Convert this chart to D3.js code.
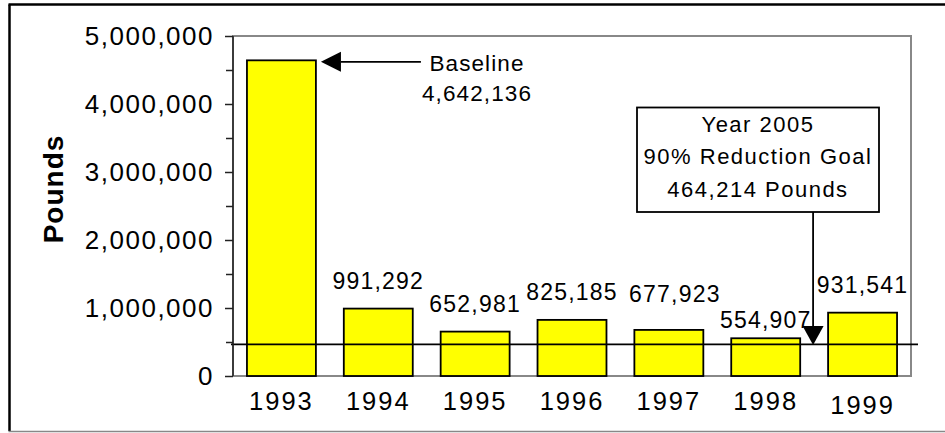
<!DOCTYPE html>
<html>
<head>
<meta charset="utf-8">
<script src="https://cdn.jsdelivr.net/npm/d3@7/dist/d3.min.js"></script>
<style>
  html, body { margin: 0; padding: 0; background: #fff; }
  svg { display: block; }
  text { font-family: "Liberation Sans", Arial, Helvetica, sans-serif; fill: #000; }
</style>
</head>
<body>
<svg id="chart" width="945" height="433"></svg>
<script>
// ---- data ----
const years = ["1993", "1994", "1995", "1996", "1997", "1998", "1999"];
const pounds = [4642136, 991292, 652981, 825185, 677923, 554907, 931541];
const yTicks = [0, 1000000, 2000000, 3000000, 4000000, 5000000];
const yMinorTicks = [500000, 1500000, 2500000, 3500000, 4500000];
const goalValue = 464214;
const baselineText = ["Baseline", "4,642,136"];
const goalText = ["Year 2005", "90% Reduction Goal", "464,214 Pounds"];
const yTitle = "Pounds";

// ---- layout ----
const svg = d3.select("#chart");
const L = 233, R = 911, T = 36, B = 376;

const x = d3.scaleBand().domain(years).range([L, R]).paddingInner(0.288).paddingOuter(0.144);
const y = d3.scaleLinear().domain([0, 5000000]).range([B, T]);
const fmt = d3.format(",");

// outer frame
svg.append("line").attr("x1", 9.5).attr("x2", 9.5).attr("y1", 4.5).attr("y2", 431)
  .attr("stroke", "#000").attr("stroke-width", 2.5);
svg.append("line").attr("x1", 8.5).attr("x2", 945).attr("y1", 4.5).attr("y2", 4.5)
  .attr("stroke", "#000").attr("stroke-width", 2.5);
svg.append("line").attr("x1", 8.5).attr("x2", 945).attr("y1", 431.5).attr("y2", 431.5)
  .attr("stroke", "#888").attr("stroke-width", 1.5);

// plot area
svg.append("rect").attr("x", L).attr("y", T).attr("width", R - L).attr("height", B - T)
  .attr("fill", "#fff").attr("stroke", "#888").attr("stroke-width", 2);

// bars
svg.append("g").selectAll("rect").data(years).join("rect")
  .attr("x", d => x(d))
  .attr("y", (d, i) => y(pounds[i]))
  .attr("width", x.bandwidth())
  .attr("height", (d, i) => y(0) - y(pounds[i]))
  .attr("fill", "#ffff00")
  .attr("stroke", "#000")
  .attr("stroke-width", 1.8);

// goal line
svg.append("line").attr("x1", L - 2).attr("x2", R + 7)
  .attr("y1", y(goalValue)).attr("y2", y(goalValue))
  .attr("stroke", "#000").attr("stroke-width", 1.8);

// y axis
const yAxis = svg.append("g").attr("transform", `translate(${L},0)`)
  .call(d3.axisLeft(y).tickValues(yTicks).tickSize(8).tickPadding(11).tickFormat(fmt));
yAxis.select(".domain").remove();
yAxis.selectAll(".tick line").attr("stroke", "#222").attr("stroke-width", 1.5);
yAxis.selectAll(".tick text").style("font-size", "26px").style("letter-spacing", "1.5px")
  .attr("fill", "#000");

const yMinor = svg.append("g").attr("transform", `translate(${L},0)`)
  .call(d3.axisLeft(y).tickValues(yMinorTicks).tickSize(7).tickFormat(""));
yMinor.select(".domain").remove();
yMinor.selectAll(".tick line").attr("stroke", "#222").attr("stroke-width", 1.5);

svg.append("line").attr("x1", L).attr("x2", L).attr("y1", T).attr("y2", B)
  .attr("stroke", "#222").attr("stroke-width", 1.5);

// x axis (category labels)
const xAxis = svg.append("g").attr("transform", `translate(0,${B})`)
  .call(d3.axisBottom(x).tickSize(0).tickPadding(16));
xAxis.select(".domain").remove();
xAxis.selectAll(".tick text").style("font-size", "25.5px").style("letter-spacing", "2px")
  .attr("fill", "#000")
  .attr("dy", d => d === "1999" ? "0.86em" : "0.71em");

// y title
svg.append("text")
  .attr("transform", "translate(63,189) rotate(-90)")
  .attr("text-anchor", "middle")
  .style("font-size", "28px").style("font-weight", "bold").style("letter-spacing", "1px")
  .text(yTitle);

// value labels (1994-1999)
const nudge = { "1997": [6, -8], "1998": [0, 9.5] };
svg.append("g").selectAll("text").data(years.slice(1)).join("text")
  .attr("x", d => x(d) + x.bandwidth() / 2 + (nudge[d] ? nudge[d][0] : 0))
  .attr("y", (d) => y(pounds[years.indexOf(d)]) - 20 + (nudge[d] ? nudge[d][1] : 0))
  .attr("text-anchor", "middle")
  .style("font-size", "23px").style("letter-spacing", "1.2px")
  .text(d => fmt(pounds[years.indexOf(d)]));

// arrowhead marker helper
function arrow(x1, y1, x2, y2, headLen, headHalf) {
  const ang = Math.atan2(y2 - y1, x2 - x1);
  const bx = x2 - headLen * Math.cos(ang), by = y2 - headLen * Math.sin(ang);
  svg.append("line").attr("x1", x1).attr("y1", y1).attr("x2", bx).attr("y2", by)
    .attr("stroke", "#000").attr("stroke-width", 1.8);
  const px = -Math.sin(ang) * headHalf, py = Math.cos(ang) * headHalf;
  svg.append("path")
    .attr("d", `M${x2},${y2}L${bx + px},${by + py}L${bx - px},${by - py}Z`)
    .attr("fill", "#000");
}

// baseline annotation
const bx0 = x("1993") + x.bandwidth();
arrow(bx0 + 105, y(pounds[0]) + 1.5, bx0 + 5, y(pounds[0]) + 1.5, 20, 10);
svg.append("g").selectAll("text").data(baselineText).join("text")
  .attr("x", 477).attr("y", (d, i) => 70.7 + i * 30.5)
  .attr("text-anchor", "middle")
  .style("font-size", i => "22.5px")
  .style("letter-spacing", "1.1px")
  .text(d => d);

// goal annotation box
const boxX = 637, boxY = 107.5, boxW = 242, boxH = 104.5;
const ax = x("1999") - 15;
arrow(ax, boxY + boxH, ax, y(goalValue) + 0.5, 19, 10.5);
svg.append("rect").attr("x", boxX).attr("y", boxY).attr("width", boxW).attr("height", boxH)
  .attr("fill", "#fff").attr("stroke", "#000").attr("stroke-width", 1.8);
svg.append("g").selectAll("text").data(goalText).join("text")
  .attr("x", boxX + boxW / 2).attr("y", (d, i) => 131.7 + i * 32.5)
  .attr("text-anchor", "middle")
  .style("font-size", "22px").style("letter-spacing", "1.5px")
  .text(d => d);
</script>
</body>
</html>
